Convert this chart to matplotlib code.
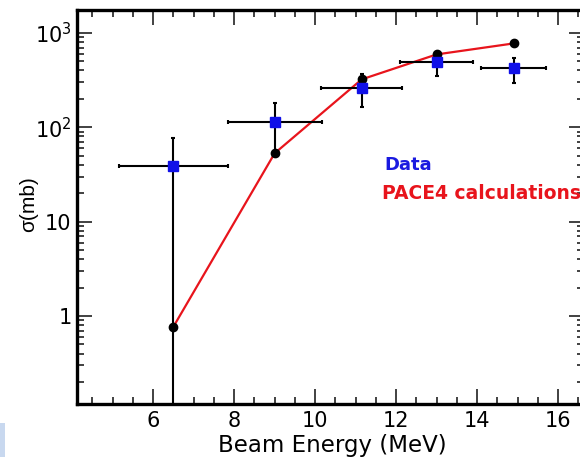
import matplotlib
matplotlib.use("Agg")
import matplotlib.pyplot as plt
import numpy as np
from matplotlib.patches import Rectangle
from matplotlib.ticker import FixedLocator, MultipleLocator, LogLocator, NullFormatter

plt.rcParams["font.family"] = ["DejaVu Sans"]
plt.rcParams["mathtext.fontset"] = "dejavusans"

# Measured cross sections (mb) with energy bin half-widths and asymmetric errors
data_energy = [6.5, 9.0, 11.15, 13.0, 14.9]
data_sigma = [38.7, 113, 259, 487, 421]
data_xerr = [1.35, 1.16, 1.0, 0.9, 0.8]
data_yerr_low = [38.6, 58, 96, 140, 129]
data_yerr_high = [38, 66, 104, 130, 116]

# PACE4 statistical-model calculations
pace_energy = [6.5, 9.0, 11.15, 13.0, 14.9]
pace_sigma = [0.77, 53, 322, 592, 774]

ytick_values = [1, 10, 100, 1000]
ytick_labels = ["1", "10", r"$10^2$", r"$10^3$"]
xtick_values = [6, 8, 10, 12, 14, 16]

fig = plt.figure(figsize=(5.80, 4.57), dpi=100)
# right spine sits just past the edge of the canvas
ax = fig.add_axes([77 / 580, 53 / 457, 507 / 580, 394 / 457])

ax.plot(pace_energy, pace_sigma, "-", color="#e8141c", lw=1.6,
        solid_joinstyle="round", zorder=2)
ax.errorbar(data_energy, data_sigma, xerr=data_xerr,
            yerr=[data_yerr_low, data_yerr_high], fmt="none",
            ecolor="black", elinewidth=1.5, capsize=1.5, capthick=1.5, zorder=3)
ax.plot(pace_energy, pace_sigma, "o", color="black", ms=6, zorder=4)
ax.plot(data_energy, data_sigma, "s", color="#1010e8", ms=6.5, mec="#1010e8", zorder=5)

ax.set_yscale("log")
ax.set_xlim(4.12, 16.64)
ax.set_ylim(0.117, 1750)

ax.xaxis.set_major_locator(FixedLocator(xtick_values))
ax.xaxis.set_minor_locator(MultipleLocator(0.5))
ax.yaxis.set_major_locator(FixedLocator(ytick_values))
ax.set_yticklabels(ytick_labels)
ax.yaxis.set_minor_locator(LogLocator(base=10, subs=np.arange(2, 10)))
ax.yaxis.set_minor_formatter(NullFormatter())

ax.tick_params(which="both", direction="in", top=True, right=True,
               labelsize=15, width=1.3, color="#333333")
ax.tick_params(which="major", length=11, pad=5)
ax.tick_params(which="minor", length=5)
ax.tick_params(axis="y", which="major", pad=4)
for side in ax.spines.values():
    side.set_linewidth(2.4)

# axis titles placed in figure pixels
fig.text(332 / 580, 1 - 452 / 457, "Beam Energy (MeV)", fontsize=16.5,
         ha="center", va="baseline")
fig.text(29 / 580, 1 - 204 / 457, "σ(mb)", rotation=90, fontsize=15,
         family="Liberation Sans", ha="center", va="center")

ax.text(384 / 580, 1 - 165 / 457, "Data", transform=fig.transFigure,
        color="#1a1ae0", fontsize=13, fontweight="bold", va="center")
ax.text(382 / 580, 1 - 193 / 457, "PACE4 calculations", transform=fig.transFigure,
        color="#e8141c", fontsize=13.5, fontweight="bold", va="center")

fig.patches.append(Rectangle((0, 0), 5 / 580, 34 / 457, transform=fig.transFigure,
                             facecolor="#c8d8ef", edgecolor="none"))

fig.savefig("out.png", dpi=100)
